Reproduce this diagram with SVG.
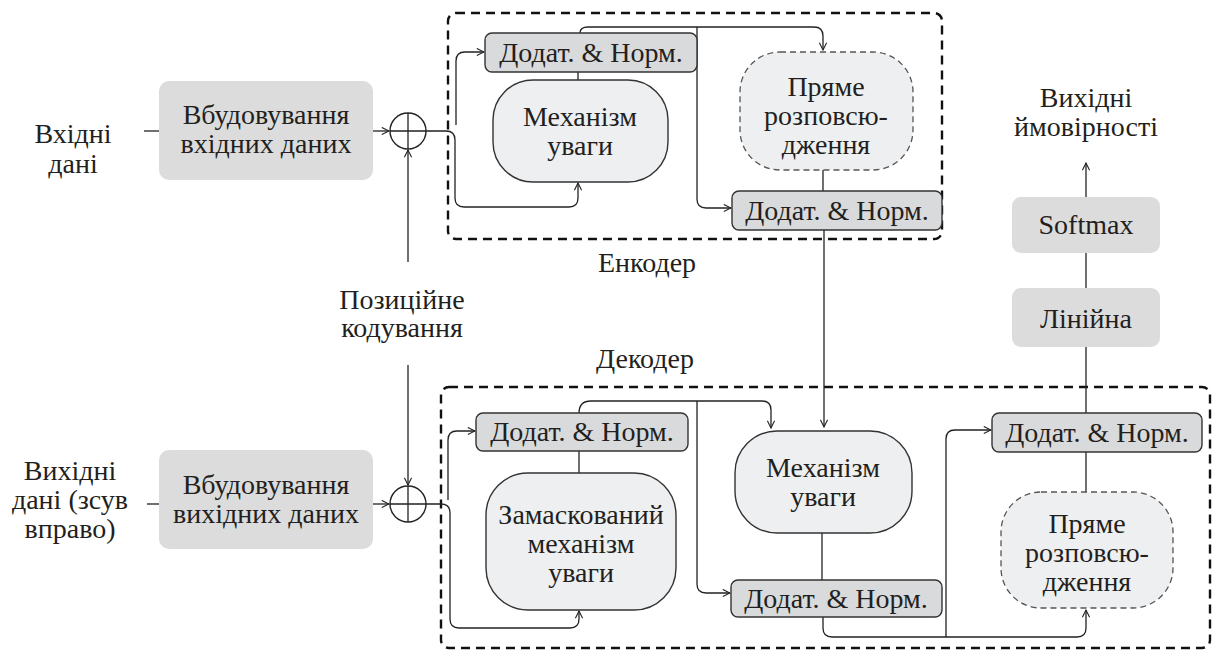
<svg xmlns="http://www.w3.org/2000/svg" width="1213" height="652" viewBox="0 0 1213 652">
<defs>
<marker id="arr" viewBox="0 0 10 10" refX="9" refY="5" markerWidth="9" markerHeight="9" markerUnits="userSpaceOnUse" orient="auto">
<path d="M1,1 L9,5 L1,9" fill="none" stroke="#222" stroke-width="1.2"/>
</marker>
</defs>
<style>
.t{font-family:"Liberation Serif","Times New Roman",serif;font-size:28px;fill:#231f20;text-anchor:middle}
.emb{fill:#dcdcdd}
.an{fill:#d9dadc;stroke:#333;stroke-width:1.4}
.att{fill:#eeeff1;stroke:#333;stroke-width:1.4}
.ff{fill:#eeeff1;stroke:#555;stroke-width:1.3;stroke-dasharray:6 4}
.frame{fill:none;stroke:#111;stroke-width:2.4;stroke-dasharray:9 6}
.sum{fill:#fff;stroke:#222;stroke-width:1.4}
#connectors path{fill:none;stroke:#222;stroke-width:1.3}
</style>
<g id="encoder-frame"><rect class="frame" x="448" y="13" width="494" height="226" rx="8"/><text class="t" x="647" y="272">Енкодер</text></g>
<g id="decoder-frame"><rect class="frame" x="441" y="387" width="769" height="261" rx="8"/><text class="t" x="645" y="368">Декодер</text></g>
<g id="connectors">
<path d="M144,131 H159"/>
<path d="M373,131 H389" marker-end="url(#arr)"/>
<path d="M408,262 V150" marker-end="url(#arr)"/>
<path d="M426,131 H446 Q455,131 455,140 V198 Q455,207 464,207 H569 Q578,207 578,198 V183" marker-end="url(#arr)"/>
<path d="M456,125 V61 Q456,52 465,52 H484" marker-end="url(#arr)"/>
<path d="M578,80 V72"/>
<path d="M580,33 Q580,27 588,27 H814 Q823,27 823,36 V50" marker-end="url(#arr)"/>
<path d="M697,27 V199 Q697,208 706,208 H731" marker-end="url(#arr)"/>
<path d="M823,170 V191"/>
<path d="M824,230 V427" marker-end="url(#arr)"/>
<path d="M147,504 H159"/>
<path d="M373,504 H389" marker-end="url(#arr)"/>
<path d="M408,365 V485" marker-end="url(#arr)"/>
<path d="M426,504 H441 Q450,504 450,513 V619 Q450,628 459,628 H570 Q579,628 579,619 V611" marker-end="url(#arr)"/>
<path d="M448,500 V440 Q448,431 457,431 H475" marker-end="url(#arr)"/>
<path d="M579,473 V451"/>
<path d="M579,413 Q579,401 591,401 H762 Q771,401 771,410 V428" marker-end="url(#arr)"/>
<path d="M697,401 V584 Q697,593 706,593 H730" marker-end="url(#arr)"/>
<path d="M822,533 V580"/>
<path d="M823,617 V628 Q823,637 832,637 H1077 Q1086,637 1086,628 V610" marker-end="url(#arr)"/>
<path d="M946,637 V439 Q946,430 955,430 H991" marker-end="url(#arr)"/>
<path d="M1086,452 V492"/>
<path d="M1086,413 V347"/>
<path d="M1086,288 V253"/>
<path d="M1086,197 V163" marker-end="url(#arr)"/>
</g>
<g id="input-label"><text class="t" x="73" y="143">Вхідні</text><text class="t" x="73" y="173">дані</text></g>
<g id="output-label"><text class="t" x="70" y="480">Вихідні</text><text class="t" x="70" y="509">дані (зсув</text><text class="t" x="70" y="538">вправо)</text></g>
<g id="pos-enc"><text class="t" x="402" y="309">Позиційне</text><text class="t" x="402" y="337">кодування</text></g>
<g id="emb-enc"><rect class="emb" x="159" y="81" width="214" height="99" rx="10"/><text class="t" x="266" y="124">Вбудовування</text><text class="t" x="266" y="153">вхідних даних</text></g>
<g id="emb-dec"><rect class="emb" x="159" y="450" width="214" height="99" rx="10"/><text class="t" x="266" y="494">Вбудовування</text><text class="t" x="266" y="523">вихідних даних</text></g>
<g id="sum-enc"><circle class="sum" cx="408" cy="131" r="18"/><path d="M390,131 H426 M408,113 V149" stroke="#222" stroke-width="1.3"/></g>
<g id="sum-dec"><circle class="sum" cx="408" cy="504" r="18"/><path d="M390,504 H426 M408,486 V522" stroke="#222" stroke-width="1.3"/></g>
<g id="an-e1"><rect class="an" x="485" y="33" width="212" height="39" rx="7"/><text class="t" x="591" y="62">Додат. &amp; Норм.</text></g>
<g id="attn-e"><rect class="att" x="493" y="80" width="175" height="102" rx="40"/><text class="t" x="580" y="126">Механізм</text><text class="t" x="580" y="155">уваги</text></g>
<g id="ff-e"><rect class="ff" x="740" y="52" width="173" height="118" rx="40"/><text class="t" x="826" y="96">Пряме</text><text class="t" x="826" y="125">розповсю-</text><text class="t" x="826" y="154">дження</text></g>
<g id="an-e2"><rect class="an" x="732" y="191" width="210" height="39" rx="7"/><text class="t" x="837" y="220">Додат. &amp; Норм.</text></g>
<g id="an-d1"><rect class="an" x="476" y="413" width="212" height="38" rx="7"/><text class="t" x="582" y="441">Додат. &amp; Норм.</text></g>
<g id="masked"><rect class="att" x="486" y="473" width="190" height="137" rx="42"/><text class="t" x="581" y="524">Замаскований</text><text class="t" x="581" y="553">механізм</text><text class="t" x="581" y="582">уваги</text></g>
<g id="attn-d"><rect class="att" x="735" y="431" width="177" height="102" rx="42"/><text class="t" x="823" y="477">Механізм</text><text class="t" x="823" y="506">уваги</text></g>
<g id="an-d2"><rect class="an" x="731" y="580" width="211" height="37" rx="7"/><text class="t" x="836" y="608">Додат. &amp; Норм.</text></g>
<g id="an-d3"><rect class="an" x="992" y="413" width="210" height="39" rx="7"/><text class="t" x="1097" y="442">Додат. &amp; Норм.</text></g>
<g id="ff-d"><rect class="ff" x="1001" y="492" width="172" height="116" rx="40"/><text class="t" x="1087" y="533">Пряме</text><text class="t" x="1087" y="562">розповсю-</text><text class="t" x="1087" y="591">дження</text></g>
<g id="linear"><rect class="emb" x="1012" y="288" width="148" height="59" rx="9"/><text class="t" x="1086" y="328">Лінійна</text></g>
<g id="softmax"><rect class="emb" x="1012" y="197" width="148" height="56" rx="9"/><text class="t" x="1086" y="234">Softmax</text></g>
<g id="out-probs"><text class="t" x="1086" y="107">Вихідні</text><text class="t" x="1086" y="136">ймовірності</text></g>
</svg>
